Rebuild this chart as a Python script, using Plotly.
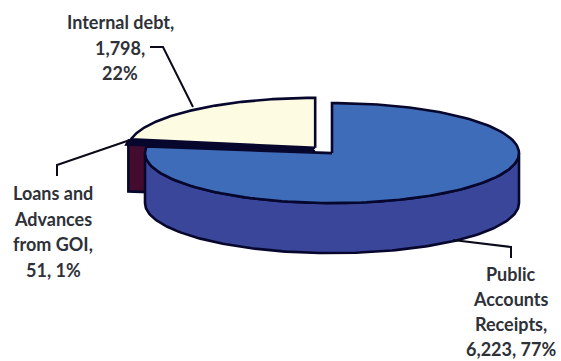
import numpy as np
import plotly.graph_objects as go

# Receipts by source, in chart order (clockwise from 12 o'clock)
sources = ["Public Accounts Receipts", "Loans and Advances from GOI", "Internal debt"]
amounts = [6223, 51, 1798]
shares = [77, 1, 22]

# Label text, wrapped the way it is printed beside each slice
label_lines = [
    ["Public", "Accounts", "Receipts,", f"{amounts[0]:,}, {shares[0]}%"],
    ["Loans and", "Advances", "from GOI,", f"{amounts[1]}, {shares[1]}%"],
    ["Internal debt,", f"{amounts[2]:,},", f"{shares[2]}%"],
]

# Projection of the tilted pie, in page pixels
PIE_X, PIE_Y = 323.5, 150.5
RX, RY = 187.0, 50.0
DEPTH = 50.0
EXPLODE = 0.069
LOANS_NUDGE = 3.0
OUTLINE = "#07072e"

top_colors = ["#3f6cb9", "#430c2e", "#fdfbe2"]
side_colors = ["#3a4699", "#430c2e", "#e8e4c0"]

total = sum(amounts)
edges = np.cumsum([0] + amounts) / total * 2 * np.pi


def project(cx, cy, angle, drop=0.0):
    """Clockwise angle from 12 o'clock to page coordinates on the ellipse."""
    return cx + RX * np.sin(angle), cy - RY * np.cos(angle) + drop


def slice_center(i):
    mid = (edges[i] + edges[i + 1]) / 2
    cx = PIE_X + EXPLODE * RX * np.sin(mid)
    cy = PIE_Y - EXPLODE * RY * np.cos(mid)
    if i == 1:
        cx += LOANS_NUDGE
    return cx, cy


fig = go.Figure()


def polygon(xs, ys, color, width=2.6):
    fig.add_trace(go.Scatter(
        x=xs, y=ys, mode="lines", fill="toself", fillcolor=color,
        line=dict(color=OUTLINE, width=width), hoverinfo="skip", showlegend=False,
    ))


def draw_top(i, width=2.6):
    cx, cy = slice_center(i)
    arc = np.linspace(edges[i], edges[i + 1], 160)
    ax, ay = project(cx, cy, arc)
    polygon(np.r_[cx, ax, cx], np.r_[cy, ay, cy], top_colors[i], width)


def draw_rim(i):
    cx, cy = slice_center(i)
    lo, hi = max(edges[i], np.pi / 2), min(edges[i + 1], 3 * np.pi / 2)
    arc = np.linspace(lo, hi, 160)
    ax, ay = project(cx, cy, arc)
    bx, by = project(cx, cy, arc[::-1], DEPTH)
    polygon(np.r_[ax, bx, ax[0]], np.r_[ay, by, ay[0]], side_colors[i])


def draw_cut_face(i):
    # Radial face on the leading edge of a slice, seen from the front
    cx, cy = slice_center(i)
    ox, oy = project(cx, cy, edges[i])
    polygon([cx, ox, ox, cx, cx], [cy, oy, oy + DEPTH - 2, cy + DEPTH - 2, cy], side_colors[i])


# Back to front: the thin loans slice, internal debt, then the large slice
draw_cut_face(1)
draw_top(1, width=5)
draw_top(2)
draw_rim(0)
draw_top(0)

# Leader lines from each slice to its label
leaders = [
    ([453, 511, 511], [240, 247, 258]),
    ([130, 57, 57], [140, 165, 176]),
    ([193, 163, 150], [107, 47, 47]),
]
for lx, ly in leaders:
    fig.add_trace(go.Scatter(
        x=lx, y=ly, mode="lines", line=dict(color="#0a0a1a", width=2),
        hoverinfo="skip", showlegend=False,
    ))

# Centre x, first line y and line spacing for each label block
label_blocks = [(511, 274, 25.0), (53, 193, 25.7), (120, 22, 25.7)]
for (cx, top, step), lines in zip(label_blocks, label_lines):
    for n, text in enumerate(lines):
        fig.add_annotation(
            x=cx, y=top + n * step, text=text, showarrow=False,
            xanchor="center", yanchor="middle",
            font=dict(family="Lato", size=18, color="#2e3138", weight="bold"),
        )

fig.update_layout(
    width=561, height=361, margin=dict(l=0, r=0, t=0, b=0),
    paper_bgcolor="white", plot_bgcolor="white", showlegend=False,
    xaxis=dict(range=[0, 561], visible=False, fixedrange=True),
    yaxis=dict(range=[361, 0], visible=False, fixedrange=True),
)

fig.write_html("out.html", config={"displayModeBar": False})
